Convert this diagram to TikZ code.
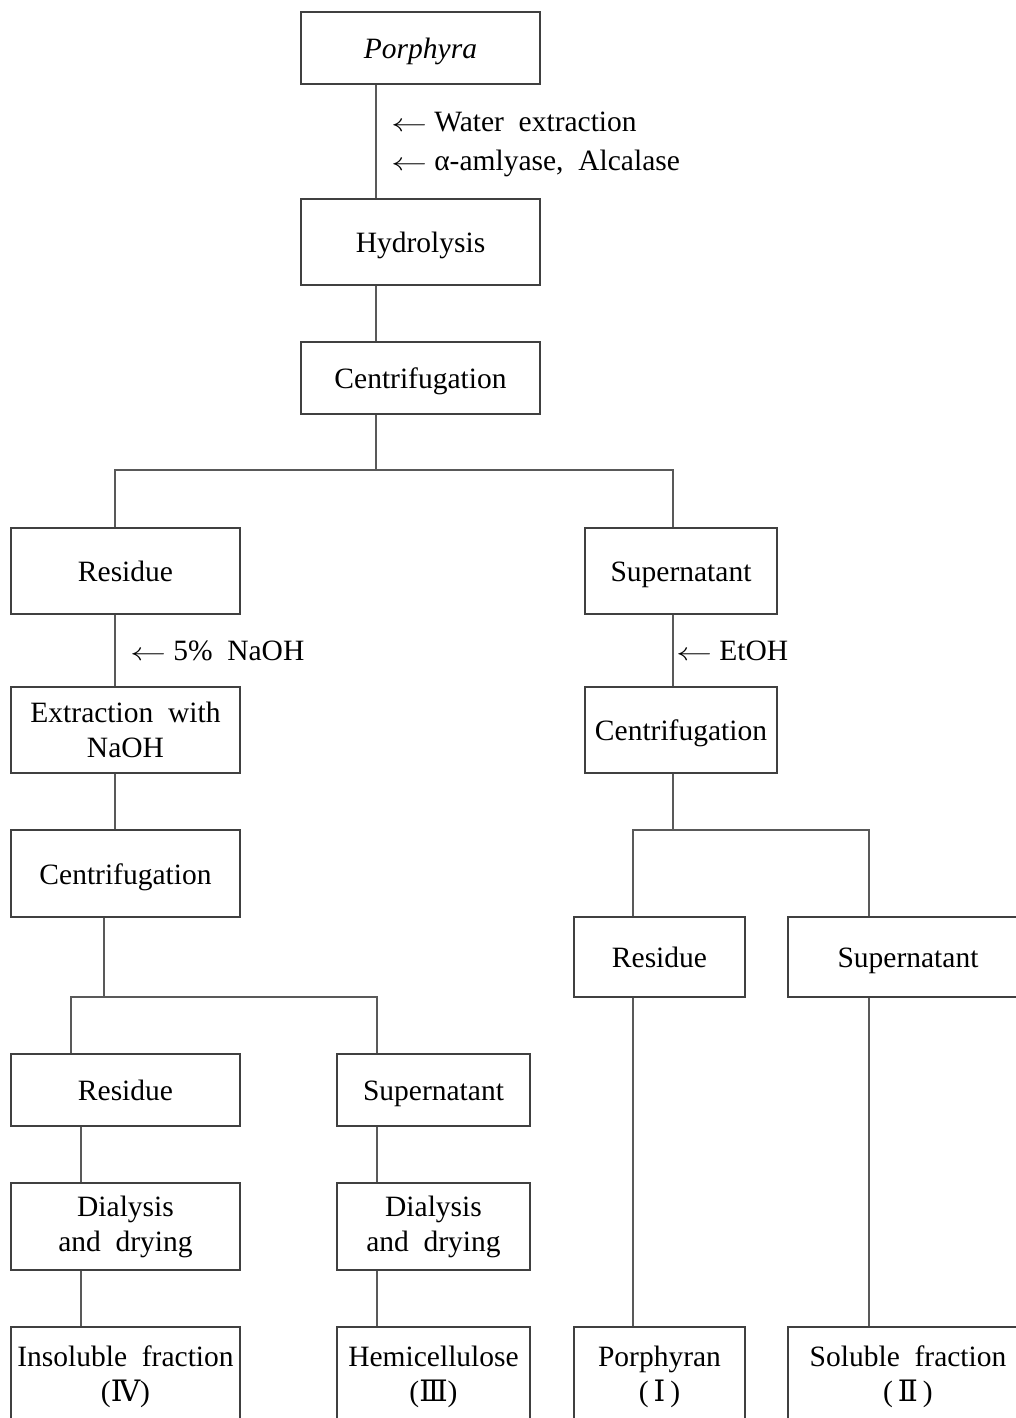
\documentclass[tikz,border=0pt]{standalone}
\usepackage{fontspec}
\setmainfont[WordSpace=2]{Liberation Serif}
\newfontfamily\numeralfont{DejaVu Serif}
\newcommand{\addarrow}{\scalebox{1.45}[1]{$\leftarrow$}\hspace{7pt}}
\begin{document}
\begin{tikzpicture}[x=1pt,y=-1pt,
  box/.style={draw=black!75, line width=1.3pt, inner sep=0pt, align=center,
    font=\fontsize{29.5}{35}\selectfont},
  oneline/.style={text height=21pt, text depth=0pt},
  link/.style={draw=black!65, line width=1.3pt},
  note/.style={anchor=west, inner sep=0pt, font=\fontsize{29.5}{35}\selectfont}]
\useasboundingbox (0,0) rectangle (1016,1418);
\clip (0,0) rectangle (1016,1418);

% process boxes
\node[box, oneline, minimum width=239pt, minimum height=72pt] (porph) at (420.5,48) {\itshape Porphyra};
\node[box, oneline, minimum width=239pt, minimum height=86pt] (hydro) at (420.5,242) {Hydrolysis};
\node[box, oneline, minimum width=239pt, minimum height=72pt] (cenA) at (420.5,378) {Centrifugation};

\node[box, oneline, minimum width=229pt, minimum height=86pt] (resA) at (125.5,571) {Residue};
\node[box, oneline, minimum width=192pt, minimum height=86pt] (supA) at (681,571) {Supernatant};

\node[box, minimum width=229pt, minimum height=86pt] (extr) at (125.5,730) {Extraction with\\NaOH};
\node[box, oneline, minimum width=192pt, minimum height=86pt] (cenR) at (681,730) {Centrifugation};

\node[box, oneline, minimum width=229pt, minimum height=87pt] (cenL) at (125.5,873.5) {Centrifugation};
\node[box, oneline, minimum width=171pt, minimum height=80pt] (resR) at (659.5,957) {Residue};
\node[box, oneline, minimum width=240pt, minimum height=80pt] (supR) at (908,957) {Supernatant};

\node[box, oneline, minimum width=229pt, minimum height=72pt] (resL) at (125.5,1090) {Residue};
\node[box, oneline, minimum width=193pt, minimum height=72pt] (supL) at (433.5,1090) {Supernatant};

\node[box, minimum width=229pt, minimum height=87pt] (dryA) at (125.5,1226.5) {Dialysis\\and drying};
\node[box, minimum width=193pt, minimum height=87pt] (dryB) at (433.5,1226.5) {Dialysis\\and drying};

% final fractions
\node[box, minimum width=229pt, minimum height=100pt] (insol) at (125.5,1377)
  {Insoluble fraction\\({\numeralfont Ⅳ})};
\node[box, minimum width=193pt, minimum height=100pt] (hemi) at (433.5,1377)
  {Hemicellulose\\({\numeralfont Ⅲ})};
\node[box, minimum width=171pt, minimum height=100pt] (porphyran) at (659.5,1377)
  {Porphyran\\(\,{\numeralfont Ⅰ}\,)};
\node[box, minimum width=240pt, minimum height=100pt] (solub) at (908,1377)
  {Soluble fraction\\(\,{\numeralfont Ⅱ}\,)};

% connector columns and junctions
\coordinate (trunk) at (376,0);
\coordinate (jA) at (376,470);
\coordinate (colL) at (115,470);
\coordinate (colR) at (673,470);
\coordinate (jL) at (104,997);
\coordinate (brL) at (71,997);
\coordinate (brM) at (377,997);
\coordinate (jR) at (673,830);
\coordinate (brR1) at (633,830);
\coordinate (brR2) at (869,830);
\coordinate (colD) at (81,0);

\draw[link] (porph.south -| trunk) -- (hydro.north -| trunk);
\draw[link] (hydro.south -| trunk) -- (cenA.north -| trunk);
\draw[link] (cenA.south -| trunk) -- (jA);
\draw[link] (resA.north -| colL) -- (colL) -- (colR) -- (supA.north -| colR);

\draw[link] (resA.south -| colL) -- (extr.north -| colL);
\draw[link] (extr.south -| colL) -- (cenL.north -| colL);
\draw[link] (supA.south -| colR) -- (cenR.north -| colR);

\draw[link] (cenL.south -| jL) -- (jL);
\draw[link] (resL.north -| brL) -- (brL) -- (brM) -- (supL.north -| brM);
\draw[link] (cenR.south -| jR) -- (jR);
\draw[link] (resR.north -| brR1) -- (brR1) -- (brR2) -- (supR.north -| brR2);

\draw[link] (resL.south -| colD) -- (dryA.north -| colD);
\draw[link] (dryA.south -| colD) -- (insol.north -| colD);
\draw[link] (supL.south -| brM) -- (dryB.north -| brM);
\draw[link] (dryB.south -| brM) -- (hemi.north -| brM);
\draw[link] (resR.south -| brR1) -- (porphyran.north -| brR1);
\draw[link] (supR.south -| brR2) -- (solub.north -| brR2);

% reagents added along the way
\node[note] (w1) at (391,122) {\addarrow Water extraction};
\node[note] (w2) at (391,163) {\addarrow α-amlyase, Alcalase};
\node[note] (w3) at (130,651) {\addarrow 5\% NaOH};
\node[note] (w4) at (676,651) {\addarrow EtOH};
\end{tikzpicture}
\end{document}
